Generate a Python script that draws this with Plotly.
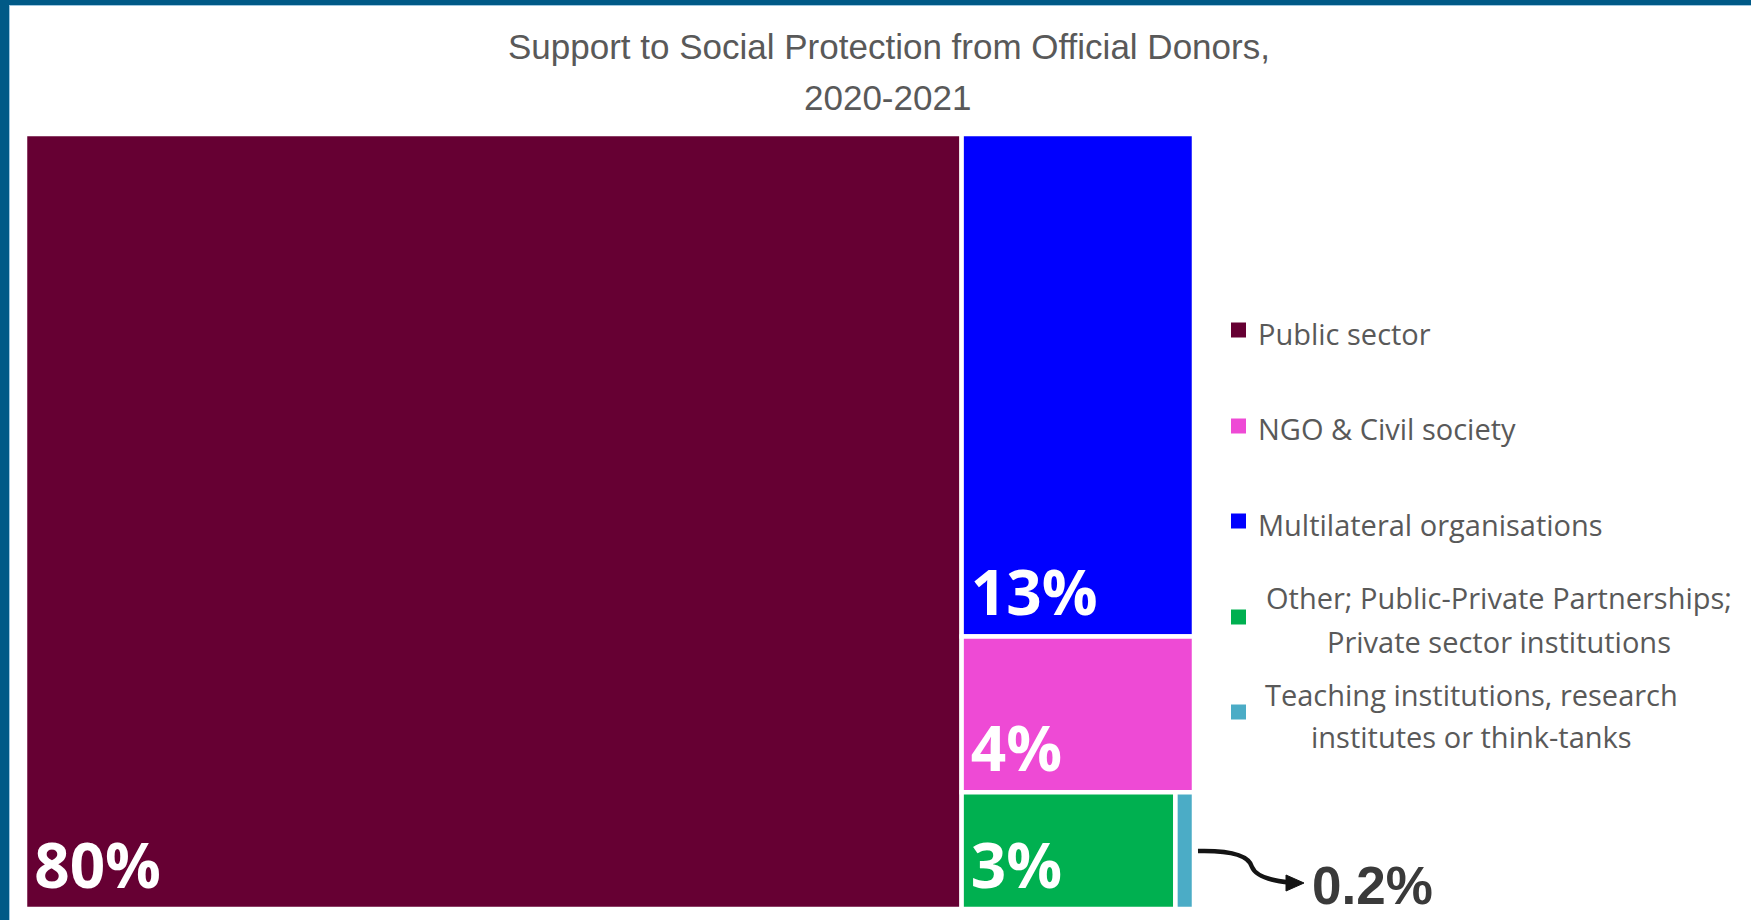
import plotly.graph_objects as go

W, H = 1751, 920

# ---- data ----
categories = ["Public sector", "Multilateral organisations", "NGO & Civil society",
              "Other; Public-Private Partnerships; Private sector institutions",
              "Teaching institutions, research institutes or think-tanks"]
shares = [80.2, 12.9, 4.0, 2.76, 0.24]
share_labels = ["80%", "13%", "4%", "3%", ""]
outside_label = "0.2%"
colors = ["#660033", "#0000FF", "#EE4AD5", "#00B050", "#4BACC6"]

legend_order = [0, 2, 1, 3, 4]
legend_lines = {
    0: ["Public sector"],
    1: ["Multilateral organisations"],
    2: ["NGO & Civil society"],
    3: ["Other; Public-Private Partnerships;", "Private sector institutions"],
    4: ["Teaching institutions, research", "institutes or think-tanks"],
}

def px(x):
    return x / W

def py(y):
    return 1 - y / H

fig = go.Figure(go.Treemap(
    labels=categories,
    parents=[""] * len(categories),
    values=shares,
    text=share_labels,
    texttemplate="<b>\u200a%{text}</b>",
    textposition="bottom left",
    textfont=dict(family="Open Sans", size=62, color="white"),
    marker=dict(colors=colors, line=dict(color="white", width=4.5),
                pad=dict(t=0, l=0, r=0, b=0)),
    pathbar=dict(visible=False),
    hoverinfo="label+value",
    sort=True,
    tiling=dict(packing="squarify", pad=0),
    domain=dict(x=[px(25), px(1194)], y=[py(909), py(134)]),
))

shapes = []
annotations = []

# frame border
shapes.append(dict(type="rect", xref="paper", yref="paper", x0=0, x1=1, y0=py(0), y1=py(5),
                   fillcolor="#005A87", line=dict(width=0), layer="above"))
shapes.append(dict(type="rect", xref="paper", yref="paper", x0=0, x1=px(9), y0=0, y1=1,
                   fillcolor="#005A87", line=dict(width=0), layer="above"))
shapes.append(dict(type="rect", xref="paper", yref="paper", x0=px(9), x1=1, y0=py(6), y1=py(5),
                   fillcolor="#9FC7E0", line=dict(width=0), layer="above"))
shapes.append(dict(type="rect", xref="paper", yref="paper", x0=px(9), x1=px(10), y0=0, y1=py(5),
                   fillcolor="#9FC7E0", line=dict(width=0), layer="above"))

# title
title_font = dict(family="Liberation Sans Narrow, Arial Narrow, Liberation Sans, Arial, sans-serif",
                  size=35, color="#595959")
annotations.append(dict(text="Support to Social Protection from Official Donors,", x=px(889), y=py(47),
                        xref="paper", yref="paper", xanchor="center", yanchor="middle",
                        showarrow=False, font=title_font))
annotations.append(dict(text="2020-2021", x=px(887), y=py(98), xref="paper", yref="paper",
                        xanchor="center", yanchor="middle", showarrow=False, font=title_font))

# legend
leg_font = dict(family="Open Sans", size=29, color="#595959")
sq_centers = [330, 426, 521, 617, 712]
line_mids = [[333], [429], [524], [597, 641], [694, 736]]
line_centers = {3: 1499, 4: 1471}
for k, idx in enumerate(legend_order):
    c = sq_centers[k]
    shapes.append(dict(type="rect", xref="paper", yref="paper", x0=px(1231), x1=px(1246),
                       y0=py(c + 7.5), y1=py(c - 7.5), fillcolor=colors[idx], line=dict(width=0)))
    lines = legend_lines[idx]
    if len(lines) == 1:
        annotations.append(dict(text=lines[0], x=px(1256), y=py(line_mids[k][0]), xref="paper",
                                yref="paper", xanchor="left", yanchor="middle", showarrow=False,
                                font=leg_font))
    else:
        for ln, ym in zip(lines, line_mids[k]):
            annotations.append(dict(text=ln, x=px(line_centers[idx]), y=py(ym), xref="paper",
                                    yref="paper", xanchor="center", yanchor="middle",
                                    showarrow=False, font=leg_font))

# outside label for smallest tile with curved arrow
annotations.append(dict(text="<b>" + outside_label + "</b>", x=px(1310), y=py(885), xref="paper",
                        yref="paper", xanchor="left", yanchor="middle", showarrow=False,
                        font=dict(family="Liberation Sans Narrow, Arial Narrow, Liberation Sans, Arial, sans-serif",
                                  size=53, color="#3A3A3A")))
curve = (f"M {px(1198)},{py(851)} C {px(1240)},{py(850)} {px(1250)},{py(859)} {px(1252)},{py(867)} "
         f"C {px(1256)},{py(877)} {px(1274)},{py(881)} {px(1290)},{py(882.5)}")
shapes.append(dict(type="path", xref="paper", yref="paper", path=curve,
                   line=dict(color="#141414", width=4.5)))
head = f"M {px(1286)},{py(875)} L {px(1304)},{py(883)} L {px(1286)},{py(891)} Z"
shapes.append(dict(type="path", xref="paper", yref="paper", path=head,
                   fillcolor="#141414", line=dict(color="#141414", width=1)))

fig.update_layout(
    width=W, height=H,
    margin=dict(l=0, r=0, t=0, b=0),
    paper_bgcolor="white",
    shapes=shapes,
    annotations=annotations,
    showlegend=False,
)

fig.write_html("out.html", config={"displayModeBar": False},
               post_script="document.body.style.margin='0';document.body.style.overflow='hidden';")
